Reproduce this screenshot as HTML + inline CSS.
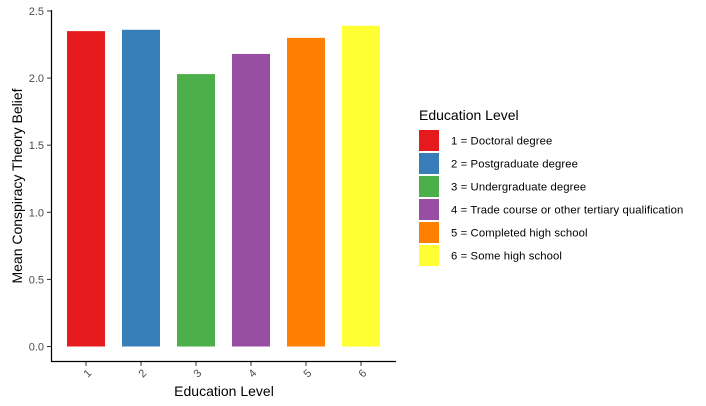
<!DOCTYPE html>
<html><head><meta charset="utf-8"><style>
body{margin:0;background:#fff;}
svg{display:block;font-family:"Liberation Sans",sans-serif;}
</style></head><body>
<svg id="chart" width="706" height="406">
<g id="plot"></g>
<line x1="51.5" y1="10" x2="51.5" y2="362" stroke="#000" stroke-width="1.2"/>
<line x1="51" y1="361.5" x2="396" y2="361.5" stroke="#000" stroke-width="1.2"/>
<g id="yticks"></g>
<g id="xticks"></g>
<text x="0" y="0" transform="translate(22,186) rotate(-90)" text-anchor="middle" font-size="14" fill="#000">Mean Conspiracy Theory Belief</text>
<text x="224" y="396" text-anchor="middle" font-size="14" fill="#000">Education Level</text>
<text x="419" y="120" font-size="14" fill="#000">Education Level</text>
<g id="legend"></g>
</svg>
<script>
const categories = ["1","2","3","4","5","6"];
const values = [2.35, 2.36, 2.03, 2.18, 2.30, 2.39];
const colors = ["#E41A1C","#377EB8","#4DAF4A","#984EA3","#FF7F00","#FFFF33"];
const labels = ["1 = Doctoral degree","2 = Postgraduate degree","3 = Undergraduate degree","4 = Trade course or other tertiary qualification","5 = Completed high school","6 = Some high school"];
const yTicks = [0, 0.5, 1.0, 1.5, 2.0, 2.5];
const NS="http://www.w3.org/2000/svg";
function yScale(v){return 346.5 - v*134.2;}
function xScale(i){return 86 + i*55;}
const bw=38;
const plot=document.getElementById('plot');
values.forEach((v,i)=>{
  const r=document.createElementNS(NS,'rect');
  r.setAttribute('x',xScale(i)-bw/2);
  r.setAttribute('y',yScale(v));
  r.setAttribute('width',bw);
  r.setAttribute('height',yScale(0)-yScale(v));
  r.setAttribute('fill',colors[i]);
  
  
  plot.appendChild(r);
});
const yg=document.getElementById('yticks');
yTicks.forEach(t=>{
  const y=yScale(t);
  const l=document.createElementNS(NS,'line');
  l.setAttribute('x1',47);l.setAttribute('x2',51);l.setAttribute('y1',y);l.setAttribute('y2',y);
  l.setAttribute('stroke','#333');
  
  
  yg.appendChild(l);
  const tx=document.createElementNS(NS,'text');
  tx.setAttribute('x',44);tx.setAttribute('y',y+4);tx.setAttribute('text-anchor','end');
  tx.setAttribute('font-size','11');tx.setAttribute('fill','#4d4d4d');
  tx.textContent=t.toFixed(1);
  
  
  yg.appendChild(tx);
});
const xg=document.getElementById('xticks');
categories.forEach((c,i)=>{
  const x=xScale(i);
  const l=document.createElementNS(NS,'line');
  l.setAttribute('x1',x);l.setAttribute('x2',x);l.setAttribute('y1',362);l.setAttribute('y2',366);
  l.setAttribute('stroke','#333');
  
  
  xg.appendChild(l);
  const tx=document.createElementNS(NS,'text');
  tx.setAttribute('transform','translate('+(x+4)+',376) rotate(-45)');
  tx.setAttribute('text-anchor','middle');
  tx.setAttribute('font-size','11');tx.setAttribute('fill','#4d4d4d');
  tx.textContent=c;
  
  
  xg.appendChild(tx);
});
const lg=document.getElementById('legend');
labels.forEach((lab,i)=>{
  const y=129+i*23;
  const r=document.createElementNS(NS,'rect');
  r.setAttribute('x',419);r.setAttribute('y',y+1);r.setAttribute('width',20);r.setAttribute('height',21);
  r.setAttribute('fill',colors[i]);
  
  
  lg.appendChild(r);
  const tx=document.createElementNS(NS,'text');
  tx.setAttribute('x',451);tx.setAttribute('y',y+15.5);
  tx.setAttribute('font-size','11.3');tx.setAttribute('fill','#000');
  tx.setAttribute('letter-spacing','0.1');
  tx.textContent=lab;
  
  
  lg.appendChild(tx);
});
</script>
</body></html>
